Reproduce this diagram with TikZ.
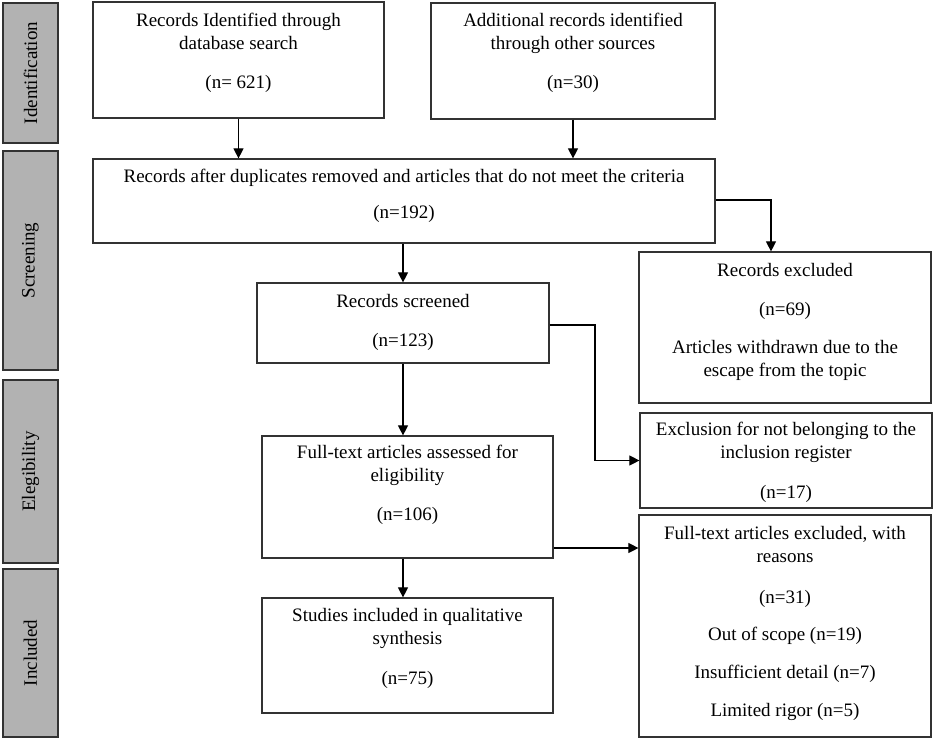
\documentclass[tikz,border=0pt]{standalone}
\usepackage{fontspec}
\setmainfont{Liberation Serif}
\usetikzlibrary{arrows.meta}
\newcommand\fsz{\fontsize{19}{23.5}\selectfont}
\newcommand\mlines[1]{\begin{tabular}[t]{@{}c@{}}#1\end{tabular}}
\definecolor{sidegray}{RGB}{178,178,178}
\definecolor{edge}{RGB}{50,50,50}
\begin{document}
\begin{tikzpicture}[x=1pt,y=-1pt,
  box/.style={draw=edge,line width=1.2pt,fill=white,inner sep=0pt,rectangle},
  side/.style={draw=edge,line width=1.4pt,fill=sidegray,inner sep=0pt,rectangle},
  txt/.style={anchor=base,inner sep=0pt,font=\fsz},
  sidetxt/.style={rotate=90,inner sep=0pt,font=\fsz},
  arr/.style={draw=black,line width=1.1pt,-{Triangle[length=10pt,width=10pt]}}]
\useasboundingbox (0,0) rectangle (934,739);
% side labels
\node[side,minimum width=55pt,minimum height=140pt] (S1) at (30.5,73) {};
\node[side,minimum width=55pt,minimum height=219pt] (S2) at (30.5,260.5) {};
\node[side,minimum width=55pt,minimum height=183pt] (S3) at (30.5,471.5) {};
\node[side,minimum width=55pt,minimum height=168pt] (S4) at (30.5,653) {};
\node[sidetxt] (S1t) at (S1.center) {Identification};
\node[sidetxt] (S2t) at (S2.center) {Screening};
\node[sidetxt] (S3t) at (S3.center) {Elegibility};
\node[sidetxt] (S4t) at (S4.center) {Included};
% boxes
\node[box,minimum width=291pt,minimum height=116pt] (A) at (238.5,60) {};
\node[box,minimum width=284pt,minimum height=116pt] (B) at (573,61) {};
\node[box,minimum width=622pt,minimum height=84pt] (C) at (404,201) {};
\node[box,minimum width=292pt,minimum height=80pt] (D) at (403,323) {};
\node[box,minimum width=292pt,minimum height=151pt] (E) at (785,327.5) {};
\node[box,minimum width=292pt,minimum height=95pt] (F) at (786,460.5) {};
\node[box,minimum width=291pt,minimum height=122pt] (G) at (407.5,497) {};
\node[box,minimum width=291pt,minimum height=115pt] (H) at (407.5,655.5) {};
\node[box,minimum width=292pt,minimum height=222pt] (I) at (785,626) {};
% texts
\node[txt] (At) at ([yshift=-25pt]A.north) {\mlines{Records Identified through\\ database search\\[15.5pt] (n= 621)}};
\node[txt] (Bt) at ([yshift=-24pt]B.north) {\mlines{Additional records identified\\ through other sources\\[15.5pt] (n=30)}};
\node[txt] (Ct) at ([yshift=-24pt]C.north) {\mlines{Records after duplicates removed and articles that do not meet the criteria\\[12.5pt] (n=192)}};
\node[txt] (Dt) at ([yshift=-25pt]D.north) {\mlines{Records screened\\[15.5pt] (n=123)}};
\node[txt] (Et) at ([yshift=-25pt]E.north) {\mlines{Records excluded\\[15.5pt] (n=69)\\[14.5pt] Articles withdrawn due to the\\ escape from the topic}};
\node[txt] (Ft) at ([yshift=-23pt]F.north) {\mlines{Exclusion for not belonging to the\\ inclusion register\\[16pt] (n=17)}};
\node[txt] (Gt) at ([yshift=-23pt]G.north) {\mlines{Full-text articles assessed for\\ eligibility\\[15.5pt] (n=106)}};
\node[txt] (Ht) at ([yshift=-24pt]H.north) {\mlines{Studies included in qualitative\\ synthesis\\[16pt] (n=75)}};
\node[txt] (It) at ([yshift=-25pt]I.north) {\mlines{Full-text articles excluded, with\\ reasons\\[17pt] (n=31)\\[14pt] Out of scope (n=19)\\[14.5pt] Insufficient detail (n=7)\\[14.5pt] Limited rigor (n=5)}};
% helper coordinates
\coordinate (ce) at (771,200);
\coordinate (fx) at (595,325);
\coordinate (gi) at (553,548);
% connectors
\draw[arr] (A.south) -- (A.south |- C.north);
\draw[arr] (B.south) -- (B.south |- C.north);
\draw[arr] (C.south -| D.north) -- (D.north);
\draw[arr] (C.east |- ce) -| (ce |- E.north);
\draw[arr] (D.east |- fx) -- (fx) |- (F.west);
\draw[arr] (D.south) -- (D.south |- G.north);
\draw[arr] (G.east |- gi) -- (I.west |- gi);
\draw[arr] (G.south -| D.south) -- (H.north -| D.south);
\end{tikzpicture}
\end{document}
